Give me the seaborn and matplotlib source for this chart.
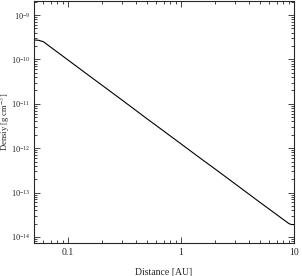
import numpy as np
import pandas as pd
import seaborn as sns
import matplotlib.pyplot as plt

# density profile
distance = [0.05, 0.055, 0.0607, 0.07, 0.08, 0.1, 0.15, 0.2, 0.3, 0.5, 0.7, 1.0, 1.5,
            2.0, 3.0, 5.0, 7.0, 9.0, 9.5, 10.0]
density = [2.75e-10, 2.7e-10, 2.5e-10, 1.9e-10, 1.48e-10, 9.7e-11, 4.5e-11, 2.62e-11,
           1.22e-11, 4.6e-12, 2.45e-12, 1.25e-12, 5.8e-13, 3.4e-13, 1.58e-13,
           6.0e-14, 3.2e-14, 2.0e-14, 1.9e-14, 1.9e-14]

df = pd.DataFrame({'Distance': distance, 'Density': density})

sns.set_theme(context='paper', style='ticks')
plt.rcParams['font.family'] = ['Liberation Serif', 'DejaVu Serif']
plt.rcParams['mathtext.fontset'] = 'stix'

fig = plt.figure(figsize=(3.02, 2.76), dpi=100)
ax = fig.add_axes([0.1126, 0.1196, 0.861, 0.876])

sns.lineplot(data=df, x='Distance', y='Density', ax=ax, color='black', lw=0.8)

ax.set_xscale('log')
ax.set_yscale('log')
ax.set_xlim(0.05, 10)
ax.set_ylim(7.3e-15, 2.05e-9)
ax.set_xticks([0.1, 1, 10])
ax.set_xticklabels(['0.1', '1', '10'])
ax.set_yticks([1e-14, 1e-13, 1e-12, 1e-11, 1e-10, 1e-9])

ax.tick_params(which='both', direction='in', top=True, right=True, labelsize=7, width=0.6)
ax.tick_params(axis='y', labelsize=6, pad=2.5)
ax.tick_params(which='major', length=4)
ax.tick_params(which='minor', length=2)
for s in ax.spines.values():
    s.set_linewidth(0.8)

ax.set_xlabel('Distance [AU]', fontsize=7)
ax.set_ylabel('Densiy [g cm$^{-3}$]', fontsize=6.2)
ax.xaxis.set_label_coords(0.5, -0.105)
ax.yaxis.set_label_coords(-0.084, 0.5)

plt.savefig('out.png', dpi=100)
